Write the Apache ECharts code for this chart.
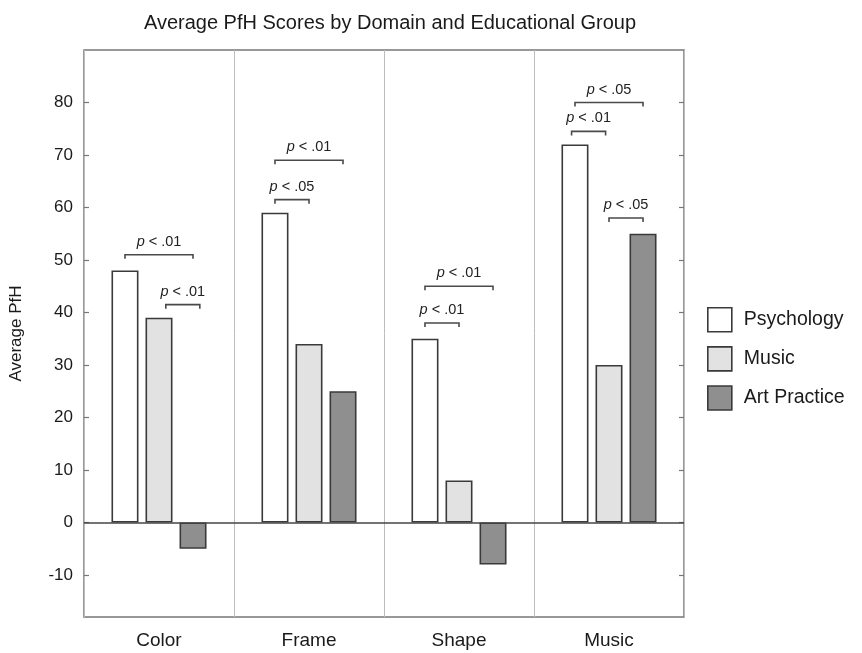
<!DOCTYPE html>
<html>
<head>
<meta charset="utf-8">
<script src="https://cdn.jsdelivr.net/npm/echarts@6/dist/echarts.min.js"></script>
<style>
  html, body { margin: 0; padding: 0; background: #fff; }
  #chart { width: 862px; height: 653px; }
</style>
</head>
<body>
<div id="chart"></div>
<script>
// Average PfH by domain for each educational group
const domains = ['Color', 'Frame', 'Shape', 'Music'];
const psychology = [48, 59, 35, 72];
const music = [39, 34, 8, 30];
const artPractice = [-5, 25, -8, 55];
const yTickValues = [-10, 0, 10, 20, 30, 40, 50, 60, 70, 80];

// Significance brackets: domain index, height (PfH units),
// start / end bar slot within the group (-1 Psychology, 0 Music, 1 Art Practice)
const bracketDomain = [0, 0, 1, 1, 2, 2, 3, 3, 3];
const bracketLevel  = [51, 41.5, 69, 61.5, 45, 38, 80, 74.5, 58];
const bracketFrom   = [-1, 0.2, -1, -1, -1, -1, -1, -1.1, 0];
const bracketTo     = [1, 1.2, 1, 0, 1, 0, 1, -0.1, 1];
const bracketLabel  = ['p < .01', 'p < .01', 'p < .01', 'p < .05', 'p < .01', 'p < .01', 'p < .05', 'p < .01', 'p < .05'];

const FONT = '"Liberation Sans", Arial, Helvetica, sans-serif';
const BAR_W = 27;
const BAR_GAP = 0.26;
const SLOT = BAR_W * (1 + BAR_GAP);
const EDGE = '#3a3a3a';

const chart = echarts.init(document.getElementById('chart'), null, { renderer: 'canvas' });

const barSeries = (name, data, fill) => ({
  name, type: 'bar', data,
  barWidth: BAR_W, barGap: (BAR_GAP * 100) + '%',
  itemStyle: { color: fill, borderColor: EDGE, borderWidth: 1.6 },
  emphasis: { disabled: true },
  z: 2
});

const bracketData = bracketDomain.map((d, i) => [d, bracketLevel[i], bracketFrom[i], bracketTo[i]]);

const yAxisBase = {
  type: 'value', min: -18, max: 90,
  splitLine: { show: false },
  axisLine: { show: false }
};

chart.setOption({
  animation: false,
  backgroundColor: '#fff',
  textStyle: { fontFamily: FONT },
  title: {
    text: 'Average PfH Scores by Domain and Educational Group',
    left: 385, top: 8, textAlign: 'center',
    textStyle: { fontFamily: FONT, fontSize: 20, fontWeight: 'normal', color: '#1a1a1a' }
  },
  grid: {
    left: 83, right: 178, top: 50, bottom: 36,
    show: true, borderColor: '#777', borderWidth: 1.5, backgroundColor: 'transparent'
  },
  legend: {
    orient: 'vertical', left: 707, top: 307, padding: 0,
    itemWidth: 24, itemHeight: 24, itemGap: 13.5,
    icon: 'rect',
    data: ['Psychology', 'Music', 'Art Practice'],
    itemStyle: { borderColor: EDGE, borderWidth: 1.6 },
    textStyle: { fontFamily: FONT, fontSize: 19.5, color: '#1a1a1a', padding: [0, 0, 0, 7] },
    selectedMode: false
  },
  xAxis: {
    type: 'category', data: domains,
    axisLine: { show: false },
    axisTick: { show: false },
    splitLine: { show: true, lineStyle: { color: '#bdbdbd', width: 1 } },
    axisLabel: { margin: 14, fontFamily: FONT, fontSize: 19, color: '#1a1a1a' }
  },
  yAxis: [
    Object.assign({}, yAxisBase, {
      position: 'left',
      name: 'Average PfH', nameLocation: 'middle', nameGap: 59, nameRotate: 90,
      nameTextStyle: { fontFamily: FONT, fontSize: 17, color: '#1a1a1a' },
      axisTick: { show: true, inside: true, length: 5, lineStyle: { color: '#777', width: 1.2 }, customValues: yTickValues },
      axisLabel: { margin: 11, fontFamily: FONT, fontSize: 17, color: '#1a1a1a', customValues: yTickValues }
    }),
    Object.assign({}, yAxisBase, {
      position: 'right',
      axisTick: { show: true, inside: true, length: 5, lineStyle: { color: '#777', width: 1.2 }, customValues: yTickValues },
      axisLabel: { show: false }
    })
  ],
  series: [
    Object.assign(barSeries('Psychology', psychology, '#ffffff'), {
      markLine: {
        silent: true, symbol: ['none', 'none'], label: { show: false },
        lineStyle: { color: '#444', width: 1.6, type: 'solid' },
        data: [{ yAxis: 0 }], z: 5
      }
    }),
    barSeries('Music', music, '#e2e2e2'),
    barSeries('Art Practice', artPractice, '#8f8f8f'),
    {
      type: 'custom',
      coordinateSystem: 'cartesian2d',
      xAxisIndex: 0, yAxisIndex: 0,
      data: bracketData,
      encode: { x: 0, y: 1 },
      silent: true,
      z: 6,
      renderItem(params, api) {
        const c = api.coord([api.value(0), api.value(1)]);
        const xa = c[0] + api.value(2) * SLOT;
        const xb = c[0] + api.value(3) * SLOT;
        const y = c[1];
        const text = bracketLabel[params.dataIndex].replace(/^p/, '{i|p}');
        return {
          type: 'group',
          children: [
            {
              type: 'polyline',
              shape: { points: [[xa, y + 4], [xa, y], [xb, y], [xb, y + 4]] },
              style: { stroke: '#4a4a4a', lineWidth: 1.6, fill: null }
            },
            {
              type: 'text',
              x: (xa + xb) / 2, y: y - 13,
              style: {
                text,
                align: 'center', verticalAlign: 'middle',
                fontFamily: FONT, fontSize: 14.5, fill: '#222',
                rich: { i: { fontStyle: 'italic', fontFamily: FONT, fontSize: 14.5, fill: '#222' } }
              }
            }
          ]
        };
      }
    }
  ]
});
</script>
</body>
</html>
